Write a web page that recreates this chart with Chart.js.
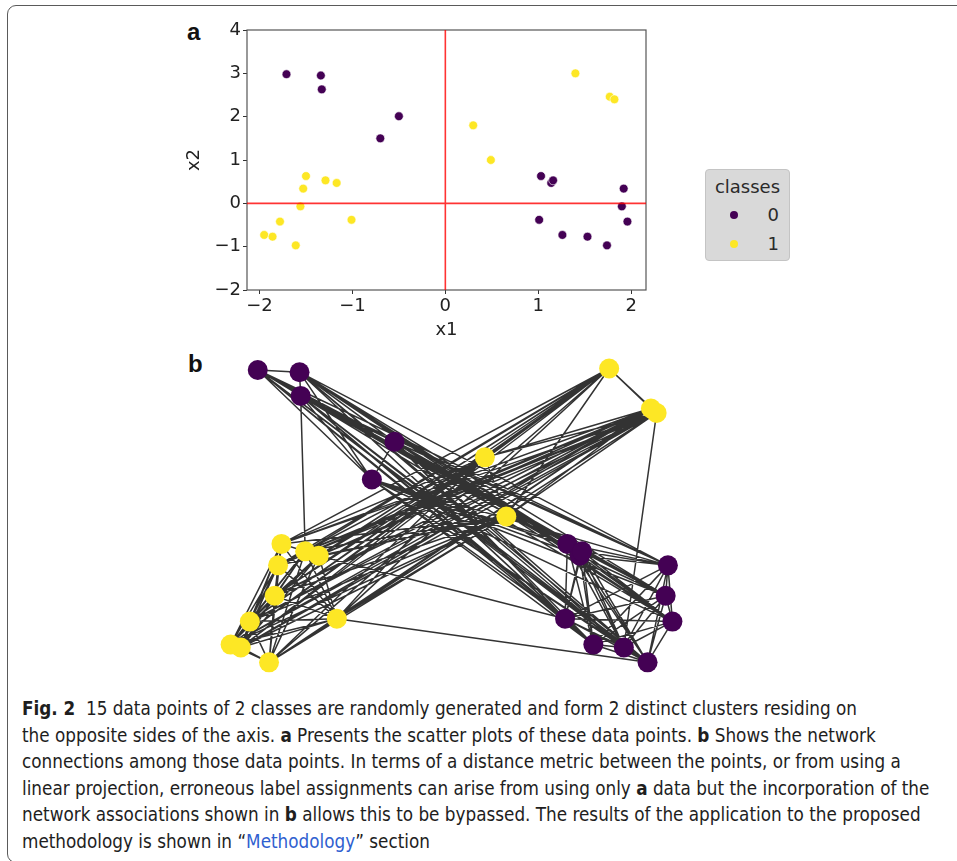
<!DOCTYPE html>
<html>
<head>
<meta charset="utf-8">
<script src="https://cdn.jsdelivr.net/npm/chart.js@4.4.1/dist/chart.umd.min.js"></script>
<style>
html, body { margin: 0; padding: 0; background: #fff; }
body { position: relative; width: 957px; height: 861px; overflow: hidden; font-family: "DejaVu Sans", sans-serif; }
#frame { position: absolute; left: 7px; top: 5px; width: 1000px; height: 858px; border: 1.5px solid #5a5a5a; border-radius: 9px; box-sizing: border-box; }
.panel-label { position: absolute; font: bold 24px/24px "Liberation Sans", Arial, sans-serif; color: #111; }
#scatterA { position: absolute; left: 180px; top: 15px; }
#networkB { position: absolute; left: 200px; top: 350px; }
#legendA { position: absolute; left: 705px; top: 169px; width: 85px; height: 92px; box-sizing: border-box;
  background: #d9d9d9; border: 1px solid #c4c4c4; border-radius: 4px; color: #2a2a2a; font-size: 18px; }
#legendA .lt { position: absolute; left: 0; width: 100%; top: 6px; text-align: center; }
#legendA .row { position: absolute; left: 0; width: 100%; height: 22px; }
#legendA .dot { position: absolute; left: 24px; top: 7px; width: 8px; height: 8px; border-radius: 50%; }
#legendA .lab { position: absolute; right: 10px; top: 0; line-height: 22px; }
#caption { position: absolute; left: 22px; top: 696px; white-space: nowrap; color: #1e1e1e;
  font-family: "DejaVu Sans Condensed", sans-serif; font-stretch: condensed; font-size: 19.5px; line-height: 26.6px;
  transform: scaleX(0.96); transform-origin: 0 0; }
#caption a { color: #2f5fd0; text-decoration: none; }
</style>
</head>
<body>
<div id="frame"></div>
<div class="panel-label" style="left:187px; top:20px;">a</div>
<div class="panel-label" style="left:188px; top:352px;">b</div>
<canvas id="scatterA" width="470" height="330"></canvas>
<div id="legendA"></div>
<canvas id="networkB" width="500" height="340"></canvas>
<div id="caption">
<b>Fig. 2</b>&nbsp; 15 data points of 2 classes are randomly generated and form 2 distinct clusters residing on<br>
the opposite sides of the axis. <b>a</b> Presents the scatter plots of these data points. <b>b</b> Shows the network<br>
connections among those data points. In terms of a distance metric between the points, or from using a<br>
linear projection, erroneous label assignments can arise from using only <b>a</b> data but the incorporation of the<br>
network associations shown in <b>b</b> allows this to be bypassed. The results of the application to the proposed<br>
methodology is shown in “<a>Methodology</a>” section
</div>
<script>
// data (same positions are used as the node layout of panel b)
const classLabels = ['0', '1'];
const classColors = ['#440154', '#fde725'];
const class0X = [-1.71, -1.34, -1.33, -0.50, -0.70, 1.03, 1.14, 1.16, 1.92, 1.90, 1.96, 1.01, 1.26, 1.53, 1.74];
const class0Y = [2.98, 2.95, 2.63, 2.01, 1.50, 0.63, 0.47, 0.53, 0.34, -0.07, -0.42, -0.38, -0.73, -0.77, -0.97];
const class1X = [1.40, 1.77, 1.82, 0.30, 0.49, -1.50, -1.53, -1.29, -1.17, -1.56, -1.78, -1.01, -1.95, -1.86, -1.61];
const class1Y = [3.00, 2.46, 2.40, 1.80, 1.00, 0.63, 0.34, 0.53, 0.47, -0.07, -0.42, -0.38, -0.73, -0.77, -0.97];
const xTickRange = [-2.135, 2.16];
const yTickRange = [-2, 4];
const refLineX = 0;
const refLineY = 0;
// network b: every node is linked to the nodes of its own class, plus these
// links between the classes [class 0 index, class 1 index]
const crossEdges = [[2, 7], [14, 11], [13, 2], [11, 8]];

const tickFont = { family: 'DejaVu Sans', size: 18 };

function pts(xs, ys) {
    return xs.map((x, i) => ({ x: x, y: ys[i] }));
}

function fmtTick(v) {
    return v < 0 ? '\u2212' + Math.abs(v) : String(v);
}

const axesFrame = {
    id: 'axesFrame',
    beforeDatasetsDraw(chart) {
        const { ctx, chartArea: a } = chart;
        ctx.save();
        ctx.strokeStyle = '#555';
        ctx.lineWidth = 1.2;
        ctx.strokeRect(a.left, a.top, a.right - a.left, a.bottom - a.top);
        ctx.restore();
    },
    afterDatasetsDraw(chart) {
        const { ctx, chartArea: a, scales } = chart;
        const px = scales.x.getPixelForValue(refLineX);
        const py = scales.y.getPixelForValue(refLineY);
        ctx.save();
        ctx.strokeStyle = 'rgba(255, 0, 0, 0.8)';
        ctx.lineWidth = 1.6;
        ctx.beginPath();
        ctx.moveTo(px, a.top);
        ctx.lineTo(px, a.bottom);
        ctx.moveTo(a.left, py);
        ctx.lineTo(a.right, py);
        ctx.stroke();
        ctx.restore();
    }
};

function axisOptions(range, title, fitFn) {
    return {
        type: 'linear',
        min: range[0],
        max: range[1],
        afterFit: fitFn,
        border: { display: false },
        grid: { drawOnChartArea: false, tickLength: 4, tickColor: '#333', lineWidth: 1 },
        ticks: {
            stepSize: 1, includeBounds: false, autoSkip: false, maxRotation: 0,
            padding: 2, color: '#222', font: tickFont, callback: fmtTick
        },
        title: { display: true, text: title, color: '#222', font: tickFont, padding: 4 }
    };
}

function initScatter() {
    const ctx = document.getElementById('scatterA').getContext('2d');
    const series = [pts(class0X, class0Y), pts(class1X, class1Y)];

    new Chart(ctx, {
        type: 'scatter',
        data: {
            datasets: series.map((d, i) => ({
                label: classLabels[i],
                data: d,
                backgroundColor: classColors[i],
                borderColor: '#ffffff',
                borderWidth: 0.6,
                pointRadius: 4.4
            }))
        },
        options: {
            responsive: false,
            animation: false,
            events: [],
            layout: { autoPadding: false, padding: { top: 15, right: 4, left: 0, bottom: 0 } },
            plugins: { legend: { display: false }, tooltip: { enabled: false } },
            scales: {
                x: axisOptions(xTickRange, 'x1', s => { s.height = 55; }),
                y: axisOptions(yTickRange, 'x2', s => { s.width = 67; })
            }
        },
        plugins: [axesFrame]
    });

    const legend = document.getElementById('legendA');
    legend.innerHTML = '<div class="lt">classes</div>' + classLabels.map((lab, i) =>
        '<div class="row" style="top:' + (34 + i * 29) + 'px"><span class="dot" style="background:' +
        classColors[i] + '"></span><span class="lab">' + lab + '</span></div>').join('');
}

function initNetwork() {
    const ctx = document.getElementById('networkB').getContext('2d');
    const groups = [pts(class0X, class0Y), pts(class1X, class1Y)];
    const gap = { x: null, y: null };
    const edges = [];

    groups.forEach(g => {
        for (let i = 0; i < g.length; i++) {
            for (let j = i + 1; j < g.length; j++) edges.push(g[i], g[j], gap);
        }
    });
    crossEdges.forEach(([p, q]) => edges.push(groups[0][p], groups[1][q], gap));

    new Chart(ctx, {
        type: 'scatter',
        data: {
            datasets: [
                {
                    data: edges, showLine: true, spanGaps: false, order: 2,
                    borderColor: 'rgba(0, 0, 0, 0.8)', borderWidth: 1.5,
                    pointRadius: 0, clip: false
                },
                ...groups.map((g, i) => ({
                    label: classLabels[i], data: g, order: 1, clip: false,
                    backgroundColor: classColors[i], borderWidth: 0, pointRadius: 10
                }))
            ]
        },
        options: {
            responsive: false,
            animation: false,
            events: [],
            layout: { autoPadding: false, padding: 0 },
            plugins: { legend: { display: false }, tooltip: { enabled: false } },
            scales: {
                x: { type: 'linear', display: false, min: -2.221, max: 2.204 },
                y: { type: 'linear', display: false, min: -1.344, max: 3.25 }
            }
        }
    });
}

document.addEventListener('DOMContentLoaded', function () {
    initScatter();
    initNetwork();
});
</script>
</body>
</html>
